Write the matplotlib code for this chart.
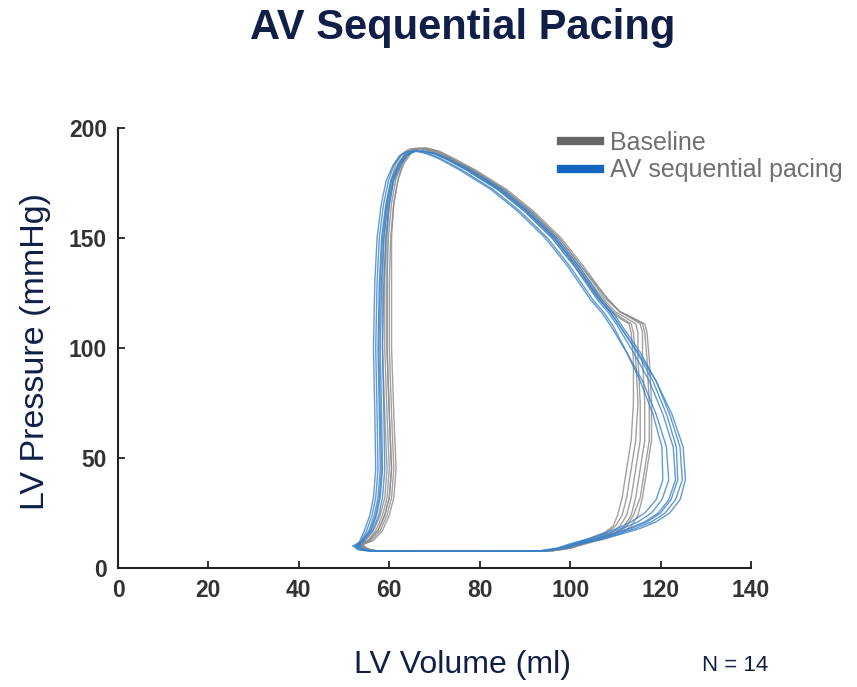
import matplotlib.pyplot as plt
from matplotlib.lines import Line2D

# pressure-volume loops (volume ml, pressure mmHg)
# baseline loops share one pressure trace, each has its own volume trace
base_p = [10.5, 8.6, 7.8, 7.6, 7.6, 7.8, 9, 11, 13.5, 16, 19, 24, 32, 45, 58,
          75, 95, 107, 111, 113.5, 116.5, 123, 137, 150, 162, 172, 181, 186.5, 189.5, 190.8,
          190.5, 188.5, 184, 177, 166, 150, 130, 100, 70, 45, 32, 24, 17, 12.5, 10.5]
base_v = [
    [53.5, 54.5, 56.5, 65, 80, 95, 99, 102, 106, 109, 111, 112.5, 113.5, 114.5, 115.5,
     115.5, 115, 115, 114.5, 112.5, 110, 107, 102, 97, 91, 85, 78, 73, 70, 67.5,
     65.5, 63.8, 62.3, 61, 60, 59.3, 59, 59, 59.5, 60, 59.5, 58.5, 57, 55.3, 53.5],
    [54, 55, 57, 65, 80, 96, 100, 103, 107, 110.5, 112.5, 114, 115.5, 116.5, 117.5,
     117.5, 117, 116.5, 116, 114, 111, 108, 103, 98, 92, 86, 79, 74, 71, 68.5,
     66.5, 64.8, 63.3, 62, 61, 60.3, 60, 60, 60.5, 61, 60.5, 59.5, 58, 56, 54],
    [53, 54, 56, 65, 80, 94, 98, 101, 104.5, 107.5, 109.5, 110.5, 111.5, 112.5, 113.5,
     114, 114, 113.5, 113, 111, 109, 106, 101, 96, 90, 84, 77, 72, 69, 66.5,
     64.5, 63, 61.5, 60.5, 59.5, 58.8, 58.5, 58.5, 59, 59.5, 59, 58, 56.5, 54.8, 53],
    [54, 55.5, 57.5, 65, 80, 96, 100, 103, 107, 110, 112, 113.5, 114.5, 115.5, 116.5,
     116.5, 116, 116, 115.5, 113.5, 111, 108, 102.5, 97.5, 91.5, 85.5, 78.5, 73.5, 70.5, 68,
     66, 64.5, 63, 62, 61, 60.5, 60.5, 60.5, 61, 61.5, 61, 60, 58.5, 56.5, 54],
    [53.5, 55, 57, 65, 80, 95, 99, 102, 105.5, 108, 110, 111.5, 112.5, 113.5, 114.5,
     115, 114.5, 114, 113.5, 111.5, 109.5, 106.5, 101.5, 96.5, 90.5, 84.5, 77.5, 72.5, 69.5, 67,
     65, 63.5, 62, 61, 60, 59.5, 59.5, 59.5, 60, 60.5, 60, 59, 57.5, 55.5, 53.5],
    [53.5, 55, 57, 65, 80, 96, 100, 103.5, 108, 111.5, 113.5, 115, 116, 117, 118,
     118, 117.5, 117, 116.5, 114, 111, 107.5, 102.5, 97.5, 91.5, 85.5, 78.5, 73.5, 70.5, 68,
     66, 64.3, 62.8, 61.5, 60.5, 59.8, 59.5, 59.5, 60, 60.5, 60, 59, 57.5, 55.5, 53.5],
]

# AV sequential pacing loops
pace_p = [10, 8.4, 7.8, 7.6, 7.6, 7.8, 9, 11, 13, 15.5, 18, 21, 25, 31, 40,
          55, 70, 85, 98, 110, 116, 122, 137, 150, 162, 172, 181, 186, 188.5, 189.5,
          189.3, 187.5, 183, 176, 165, 150, 130, 100, 70, 45, 32, 24, 17, 12.5, 10]
pace_v = [
    [52.5, 53.5, 55.5, 65, 80, 94, 98, 101, 105, 109, 113, 116.5, 119.5, 121.8, 123.3,
     122.8, 120.5, 117.5, 114, 110.5, 108.5, 106, 101, 96, 90, 84, 77, 72.5, 69.5, 67,
     65, 63.3, 61.8, 60.3, 59.2, 58.3, 57.8, 57.5, 57.8, 58, 57.5, 56.7, 55.5, 54, 52.5],
    [52, 53, 55, 65, 80, 94.5, 98.5, 102, 106, 110.5, 114.5, 118, 121, 123.3, 124.8,
     124.3, 122, 119, 115.5, 111.5, 109.5, 107, 102, 97, 91, 85, 78, 73, 70, 67.5,
     65.5, 63.8, 62.3, 60.8, 59.7, 58.8, 58.3, 58, 58.3, 58.5, 58, 57.2, 56, 54, 52],
    [53, 54, 56, 65, 80, 93.5, 97.5, 100.5, 104, 108, 111.5, 115, 118, 120.3, 121.8,
     121.3, 119, 116, 112.5, 109.5, 107.5, 105, 100, 95, 89, 83, 76, 71.5, 68.5, 66,
     64, 62.5, 61, 59.8, 58.7, 57.8, 57.3, 57, 57.3, 57.5, 57, 56.2, 55, 53.8, 53],
    [52.5, 53.5, 55.5, 65, 80, 95, 99, 102.5, 107, 111.5, 115.5, 119, 122, 124.3, 125.5,
     125, 122.5, 119, 115, 111, 109, 106.5, 101.5, 96.5, 90.5, 84.5, 77.5, 72.8, 69.8, 67.3,
     65.3, 63.5, 62, 60.5, 59.4, 58.5, 58, 57.7, 58, 58.3, 57.8, 57, 55.8, 54.3, 52.5],
    [53.5, 54.5, 56, 65, 80, 93, 97, 100, 103.5, 107, 110.5, 113.5, 116.5, 119, 120.5,
     120.3, 118.3, 115.5, 112.5, 109, 107, 104.5, 99.5, 94.5, 88.5, 82.5, 75.5, 71, 68, 65.8,
     63.8, 62.3, 60.8, 59.3, 58.2, 57.3, 56.8, 56.5, 56.8, 57, 56.5, 55.7, 54.5, 53.5, 53.5],
    [52.5, 54, 56, 65, 80, 94, 98.5, 101.5, 105.5, 109.5, 113.5, 117, 120, 122.3, 123.8,
     123.5, 121.3, 118.3, 114.8, 111, 109, 106.5, 101.5, 96.5, 90.5, 84.5, 77.5, 73, 70, 67.5,
     65.5, 63.8, 62.5, 61, 60, 59.2, 58.8, 58.5, 58.8, 59, 58.5, 57.7, 56.3, 54.5, 52.5],
]

x_ticks = [0, 20, 40, 60, 80, 100, 120, 140]
y_ticks = [0, 50, 100, 150, 200]

navy = "#0f1f48"
tick_col = "#333333"

fig = plt.figure(figsize=(8.57, 6.87), dpi=100)
ax = fig.add_axes([0.1377, 0.1732, 0.7386, 0.6405])

for v in base_v:
    ax.plot(v, base_p, color="#8a8a8a", linewidth=1.0, alpha=0.8,
            solid_joinstyle="round")
for v in pace_v:
    ax.plot(v, pace_p, color="#3a82c8", linewidth=1.0, alpha=0.8,
            solid_joinstyle="round")

ax.set_xlim(0, 140)
ax.set_ylim(0, 200)
ax.set_xticks(x_ticks)
ax.set_yticks(y_ticks)
for s in ["top", "right"]:
    ax.spines[s].set_visible(False)
for s in ["left", "bottom"]:
    ax.spines[s].set_color("#222222")
    ax.spines[s].set_linewidth(1.5)
ax.tick_params(direction="in", length=5, width=1.3, color="#222222",
               labelsize=16.5, labelcolor=tick_col, pad=8)
for lab in ax.get_xticklabels() + ax.get_yticklabels():
    lab.set_fontweight("bold")
    lab.set_fontfamily("Liberation Sans")

fig.text(0.54, 0.959, "AV Sequential Pacing", ha="center", va="center",
         fontsize=30, fontweight="bold", color=navy, family="Liberation Sans")
fig.text(0.041, 0.488, "LV Pressure (mmHg)", ha="center", va="center",
         rotation=90, fontsize=24.5, color=navy, family="Liberation Sans")
fig.text(0.540, 0.032, "LV Volume (ml)", ha="center", va="center",
         fontsize=23, color=navy, family="Liberation Sans")
fig.text(0.858, 0.032, "N = 14", ha="center", va="center",
         fontsize=16, color=navy, family="Liberation Sans")

handles = [Line2D([], [], color="#666666", linewidth=6),
           Line2D([], [], color="#1566c0", linewidth=6)]
fig.legend(handles, ["Baseline", "AV sequential pacing"], loc="upper left",
           bbox_to_anchor=(0.640, 0.828), frameon=False, borderpad=0,
           handlelength=1.55, handletextpad=0.4, labelspacing=0.15,
           prop={"family": "Liberation Sans", "size": 18}, labelcolor="#707070")

fig.savefig("out.png", dpi=100)
